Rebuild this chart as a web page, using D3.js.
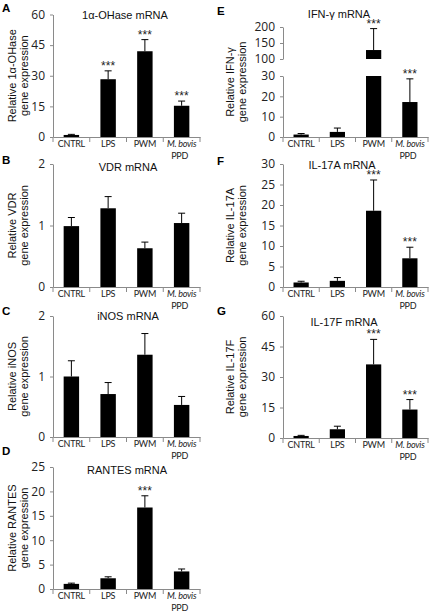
<!DOCTYPE html>
<html><head><meta charset="utf-8">
<script src="https://cdn.jsdelivr.net/npm/d3@7"></script>
<style>body{margin:0;background:#fff}</style>
</head><body>
<svg id="c" width="430" height="616"></svg>
<script>
// ---------- data ----------
const categories = ["CNTRL", "LPS", "PWM", "M. bovis PPD"];

const ohaseMean = [1.0, 28.3, 42.0, 15.3];
const ohaseErr  = [0.3, 4.1, 5.7, 2.3];
const ohaseSig  = ["", "***", "***", "***"];
const ohaseTicks = [0, 15, 30, 45, 60];

const vdrMean = [0.99, 1.28, 0.63, 1.04];
const vdrErr  = [0.14, 0.19, 0.10, 0.16];
const vdrSig  = ["", "", "", ""];
const vdrTicks = [0, 1, 2];

const inosMean = [1.0, 0.71, 1.36, 0.53];
const inosErr  = [0.26, 0.19, 0.35, 0.14];
const inosSig  = ["", "", "", ""];
const inosTicks = [0, 1, 2];

const rantesMean = [1.05, 2.2, 16.7, 3.6];
const rantesErr  = [0.15, 0.3, 2.4, 0.5];
const rantesSig  = ["", "", "***", ""];
const rantesTicks = [0, 5, 10, 15, 20, 25];

const ifngMean = [1.2, 2.5, 128, 17.2];
const ifngErr  = [0.5, 1.9, 67, 11.4];
const ifngSig  = ["", "", "***", "***"];
const ifngTicksLow = [0, 10, 20, 30];
const ifngTicksHigh = [100, 150, 200];

const il17aMean = [1.1, 1.5, 18.6, 7.0];
const il17aErr  = [0.3, 0.8, 7.5, 2.7];
const il17aSig  = ["", "", "***", "***"];
const il17aTicks = [0, 5, 10, 15, 20, 25, 30];

const il17fMean = [1.0, 4.3, 36.2, 14.0];
const il17fErr  = [0.3, 1.5, 12.3, 4.9];
const il17fSig  = ["", "", "***", "***"];
const il17fTicks = [0, 15, 30, 45, 60];

// ---------- drawing ----------
const svg = d3.select("#c");
const AX = "#8a8a8a";
const SANS = "'Liberation Sans', Arial, sans-serif";
const NUM = "'Open Sans', 'Liberation Sans', sans-serif";
const CAT = "Lato, 'Open Sans', sans-serif";

function panel(cfg) {
  const g = svg.append("g");
  const x = d3.scaleBand().domain(categories).range([cfg.x0, cfg.x1])
    .paddingInner(0.58).paddingOuter(0.29);
  const segs = cfg.segments.map(s => ({
    y: d3.scaleLinear().domain(s.domain).range(s.range),
    ticks: s.ticks, lo: s.domain[0], hi: s.domain[1]
  }));
  const yBot = cfg.segments[0].range[0];

  // y axes
  segs.forEach(s => {
    const ax = g.append("g").attr("transform", `translate(${cfg.x0},0)`)
      .call(d3.axisLeft(s.y).tickValues(s.ticks).tickFormat(d3.format("d"))
        .tickSizeInner(3).tickSizeOuter(0).tickPadding(5));
    ax.select(".domain").attr("stroke", AX);
    ax.selectAll(".tick line").attr("stroke", AX);
    ax.selectAll(".tick text").attr("font-family", NUM).attr("font-size", 12).attr("fill", "#222");
  });

  // x axis
  const xa = g.append("g").attr("transform", `translate(0,${yBot})`)
    .call(d3.axisBottom(x).tickSize(0).tickSizeOuter(0));
  xa.select(".domain").attr("stroke", AX);
  xa.selectAll(".tick text").each(function(d) {
    const t = d3.select(this).text(null).attr("y", 9.5).attr("dy", 0)
      .attr("font-family", CAT).attr("font-size", 9).attr("letter-spacing", -0.25).attr("fill", "#222");
    if (d.startsWith("M. bovis")) {
      t.append("tspan").attr("x", 0).attr("font-style", "italic").text("M. bovis");
      t.append("tspan").attr("x", -2).attr("dy", 12.5).text("PPD");
    } else {
      t.text(d);
    }
  });
  const half = (x.step() - x.bandwidth()) / 2;
  const bounds = categories.map(c => x(c) - half).concat([cfg.x1]);
  g.selectAll(".bnd").data(bounds).enter().append("line")
    .attr("x1", d => d).attr("x2", d => d)
    .attr("y1", yBot).attr("y2", yBot + 5).attr("stroke", AX);

  // bars
  categories.forEach((c, i) => {
    const m = cfg.mean[i], e = cfg.err[i];
    segs.forEach(s => {
      if (m > s.lo) {
        const top = Math.min(m, s.hi);
        g.append("rect").attr("x", x(c)).attr("width", x.bandwidth())
          .attr("y", s.y(top)).attr("height", s.y(s.lo) - s.y(top)).attr("fill", "#000");
      }
    });
    const seg = segs.find(s => m >= s.lo && m <= s.hi) || segs[0];
    const et = m + e;
    const cx = x(c) + x.bandwidth() / 2;
    g.append("line").attr("x1", cx).attr("x2", cx)
      .attr("y1", seg.y(m)).attr("y2", seg.y(et)).attr("stroke", "#000");
    g.append("line").attr("x1", cx - 3.5).attr("x2", cx + 3.5)
      .attr("y1", seg.y(et)).attr("y2", seg.y(et)).attr("stroke", "#000");
    if (cfg.sig[i]) {
      g.append("text").attr("x", cx).attr("y", seg.y(et) - 1)
        .attr("text-anchor", "middle").attr("font-family", SANS).attr("font-size", 12)
        .attr("fill", "#222").text(cfg.sig[i]);
    }
  });

  // title
  g.append("text").attr("x", cfg.titleX).attr("y", cfg.titleY).attr("text-anchor", "middle")
    .attr("font-family", SANS).attr("font-size", 11).attr("fill", "#111").text(cfg.title);
  // panel letter
  g.append("text").attr("x", cfg.letterX).attr("y", cfg.letterY)
    .attr("font-family", SANS).attr("font-size", 11.5).attr("font-weight", "bold").attr("fill", "#000")
    .text(cfg.letter);
  // y label
  const yTopAll = d3.min(cfg.segments, s => s.range[1]);
  const yc = (yTopAll + yBot) / 2;
  cfg.ylabel.forEach((ln, k) => {
    g.append("text").attr("transform", `translate(${cfg.labelX + k * 11.5},${yc}) rotate(-90)`)
      .attr("text-anchor", "middle").attr("font-family", SANS).attr("font-size", 11)
      .attr("fill", "#111").text(ln);
  });
}

const L = {x0: 53, x1: 200, labelX: 16, letterX: 2};
const R = {x0: 283, x1: 428, labelX: 234, letterX: 217};

panel({...L, segments: [{domain: [0, 60], range: [137, 14.5], ticks: ohaseTicks}],
  mean: ohaseMean, err: ohaseErr, sig: ohaseSig, title: "1α-OHase mRNA", titleX: 125, titleY: 19,
  letter: "A", letterY: 12, ylabel: ["Relative 1α-OHase", "gene expression"]});
panel({...L, segments: [{domain: [0, 2], range: [287, 164], ticks: vdrTicks}],
  mean: vdrMean, err: vdrErr, sig: vdrSig, title: "VDR mRNA", titleX: 128, titleY: 171,
  letter: "B", letterY: 164, ylabel: ["Relative VDR", "gene expression"]});
panel({...L, segments: [{domain: [0, 2], range: [437, 316], ticks: inosTicks}],
  mean: inosMean, err: inosErr, sig: inosSig, title: "iNOS mRNA", titleX: 128, titleY: 320,
  letter: "C", letterY: 315, ylabel: ["Relative iNOS", "gene expression"]});
panel({...L, segments: [{domain: [0, 25], range: [589, 467], ticks: rantesTicks}],
  mean: rantesMean, err: rantesErr, sig: rantesSig, title: "RANTES mRNA", titleX: 127, titleY: 474,
  letter: "D", letterY: 455, ylabel: ["Relative RANTES", "gene expression"]});
panel({...R, segments: [{domain: [0, 30], range: [137, 76], ticks: ifngTicksLow},
                        {domain: [100, 200], range: [59, 27], ticks: ifngTicksHigh}],
  mean: ifngMean, err: ifngErr, sig: ifngSig, title: "IFN-γ mRNA", titleX: 339, titleY: 18,
  letter: "E", letterY: 15, ylabel: ["Relative IFN-γ", "gene expression"]});
panel({...R, segments: [{domain: [0, 30], range: [287, 164], ticks: il17aTicks}],
  mean: il17aMean, err: il17aErr, sig: il17aSig, title: "IL-17A mRNA", titleX: 342, titleY: 169,
  letter: "F", letterY: 165, ylabel: ["Relative IL-17A", "gene expression"]});
panel({...R, segments: [{domain: [0, 60], range: [438, 316], ticks: il17fTicks}],
  mean: il17fMean, err: il17fErr, sig: il17fSig, title: "IL-17F mRNA", titleX: 344, titleY: 326,
  letter: "G", letterY: 315, ylabel: ["Relative IL-17F", "gene expression"]});
</script>
</body></html>
